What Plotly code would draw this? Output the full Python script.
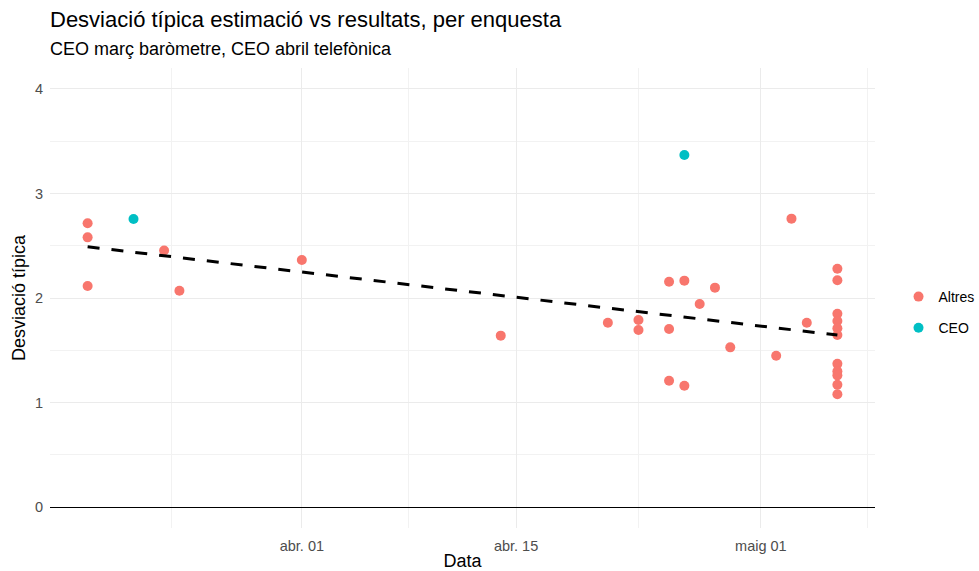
import plotly.graph_objects as go

# ---- data ----
altres_dates = [
    "2024-03-18", "2024-03-18", "2024-03-18", "2024-03-23", "2024-03-24",
    "2024-04-01", "2024-04-14", "2024-04-21", "2024-04-23", "2024-04-23",
    "2024-04-25", "2024-04-25", "2024-04-25", "2024-04-26", "2024-04-26",
    "2024-04-27", "2024-04-28", "2024-04-29", "2024-05-02", "2024-05-03",
    "2024-05-04",
    "2024-05-06", "2024-05-06", "2024-05-06", "2024-05-06", "2024-05-06",
    "2024-05-06", "2024-05-06", "2024-05-06", "2024-05-06", "2024-05-06",
    "2024-05-06",
]
altres_values = [
    2.715, 2.58, 2.115, 2.455, 2.07,
    2.364, 1.64, 1.764, 1.79, 1.694,
    2.156, 1.703, 1.209, 2.166, 1.161,
    1.943, 2.099, 1.528, 1.448, 2.759,
    1.764,
    2.28, 2.17, 1.85, 1.78, 1.71,
    1.646, 1.37, 1.30, 1.26, 1.17,
    1.08,
]
ceo_dates = ["2024-03-21", "2024-04-26"]
ceo_values = [2.756, 3.368]

trend_dates = ["2024-03-18", "2024-05-06"]
trend_values = [2.49, 1.645]

x_tick_vals = ["2024-04-01", "2024-04-15", "2024-05-01"]
x_tick_text = ["abr. 01", "abr. 15", "maig 01"]
x_minor_vals = ["2024-03-23 12:00", "2024-04-08", "2024-04-23", "2024-05-08"]
y_tick_vals = [0, 1, 2, 3, 4]
y_minor_vals = [0.5, 1.5, 2.5, 3.5]

title_text = "Desviació típica estimació vs resultats, per enquesta"
subtitle_text = "CEO març baròmetre, CEO abril telefònica"

FONT = "Liberation Sans, Arial, sans-serif"
c_alt = "#F8766D"
c_ceo = "#00BFC4"

# layout geometry (pixels)
W, H = 979, 571
L, R, T, B = 50, 104, 68, 43
PH = H - T - B

fig = go.Figure()
fig.add_trace(go.Scatter(
    x=altres_dates, y=altres_values, mode="markers", name="Altres",
    legendgroup="a",
    marker=dict(color=c_alt, size=10, line=dict(width=0)),
))
fig.add_trace(go.Scatter(
    x=ceo_dates, y=ceo_values, mode="markers", name="CEO",
    legendgroup="b",
    marker=dict(color=c_ceo, size=10, line=dict(width=0)),
))
fig.add_trace(go.Scatter(
    x=trend_dates, y=trend_values, mode="lines", showlegend=False,
    line=dict(color="black", width=3, dash="12px,12px"), hoverinfo="skip",
))

fig.update_layout(
    width=W, height=H,
    paper_bgcolor="white", plot_bgcolor="white",
    margin=dict(l=L, r=R, t=T, b=B, autoexpand=False),
    font=dict(family=FONT, color="#222222"),
    legend=dict(
        x=1.0285, xanchor="left", y=(H - B - 312.5) / PH, yanchor="middle",
        font=dict(size=14, color="black"),
        tracegroupgap=10,
    ),
    showlegend=True,
    annotations=[
        dict(text=title_text, x=-0.003, xref="paper", xanchor="left",
             y=(H - B - 19) / PH, yref="paper", yanchor="middle",
             showarrow=False, font=dict(size=22, color="black", family=FONT)),
        dict(text=subtitle_text, x=-0.003, xref="paper", xanchor="left",
             y=(H - B - 49) / PH, yref="paper", yanchor="middle",
             showarrow=False, font=dict(size=18, color="black", family=FONT)),
    ],
)

fig.update_xaxes(
    type="date", automargin=False,
    range=["2024-03-15 13:00", "2024-05-08 11:00"],
    tickmode="array", tickvals=x_tick_vals, ticktext=x_tick_text,
    tickfont=dict(size=14.5, color="#4D4D4D"),
    ticks="outside", ticklen=5, tickcolor="rgba(0,0,0,0)",
    showgrid=True, gridcolor="#EBEBEB", gridwidth=1.2,
    minor=dict(tickmode="array", tickvals=x_minor_vals, showgrid=True,
               gridcolor="#F2F2F2", gridwidth=1, ticks=""),
    showline=False, zeroline=False,
    title=dict(text="Data", font=dict(size=18, color="black"), standoff=4),
)
fig.update_yaxes(
    automargin=False,
    range=[-0.2, 4.2],
    tickmode="array", tickvals=y_tick_vals,
    tickfont=dict(size=14.5, color="#4D4D4D"),
    ticks="outside", ticklen=3, tickcolor="rgba(0,0,0,0)",
    showgrid=True, gridcolor="#EBEBEB", gridwidth=1.2,
    minor=dict(tickmode="array", tickvals=y_minor_vals, showgrid=True,
               gridcolor="#F2F2F2", gridwidth=1, ticks=""),
    zeroline=True, zerolinecolor="black", zerolinewidth=1.2,
    showline=False,
    title=dict(text="Desviació típica", font=dict(size=18, color="black"), standoff=4),
)

fig.write_html(
    "out.html",
    config={"displayModeBar": False},
    post_script="document.body.style.margin='0';document.body.style.overflow='hidden';",
)
